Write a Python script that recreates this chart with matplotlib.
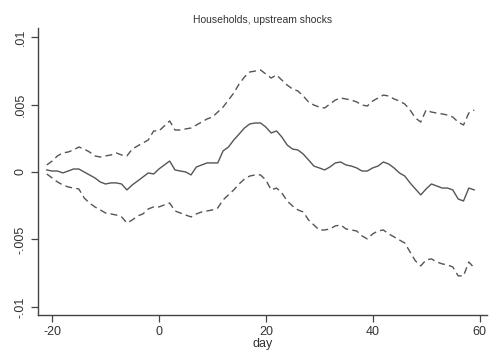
import matplotlib
matplotlib.use("Agg")
import matplotlib.pyplot as plt
import numpy as np

days = list(range(-21, 60))

point = [0.00015, 0.00007, 0.00007, -0.00007, 0.00007, 0.00022, 0.00022, 0.0, -0.00022, -0.00044,
         -0.00074, -0.00089, -0.00081, -0.00081, -0.00089, -0.00133, -0.00096, -0.00067, -0.00037, -0.00007,
         -0.00015, 0.00022, 0.00052, 0.00081, 0.00015, 0.00007, 0.0, -0.00022, 0.00037, 0.00052,
         0.00067, 0.00067, 0.00067, 0.00156, 0.00185, 0.00237, 0.00281, 0.00326, 0.00356, 0.00363,
         0.00363, 0.00333, 0.00289, 0.00304, 0.00259, 0.0020, 0.0017, 0.00163, 0.00133, 0.00089,
         0.00044, 0.0003, 0.00015, 0.00037, 0.00067, 0.00074, 0.00052, 0.00044, 0.0003, 0.00007,
         0.00007, 0.0003, 0.00044, 0.00074, 0.00059, 0.0003, -0.00007, -0.0003, -0.00081, -0.00126,
         -0.0017, -0.00126, -0.00089, -0.00104, -0.00119, -0.00119, -0.00133, -0.0020, -0.00215, -0.00119,
         -0.00133]

upper = [0.00052, 0.00081, 0.00119, 0.00141, 0.00148, 0.00163, 0.00185, 0.0017, 0.00148, 0.00119,
         0.00111, 0.00119, 0.00126, 0.00141, 0.00126, 0.00119, 0.0017, 0.00193, 0.00215, 0.00237,
         0.00304, 0.00304, 0.00341, 0.00378, 0.00311, 0.00311, 0.00319, 0.00326, 0.00348, 0.0037,
         0.00393, 0.00407, 0.00444, 0.00481, 0.00533, 0.00585, 0.00652, 0.00704, 0.00741, 0.00748,
         0.00756, 0.00726, 0.00696, 0.00719, 0.00681, 0.00644, 0.00615, 0.0060, 0.00563, 0.00519,
         0.00496, 0.00481, 0.00474, 0.00504, 0.00533, 0.00548, 0.00541, 0.00533, 0.00519, 0.00496,
         0.00489, 0.00526, 0.00548, 0.0057, 0.00563, 0.00541, 0.00526, 0.00504, 0.00459, 0.0040,
         0.0037, 0.00459, 0.00444, 0.00437, 0.0043, 0.00422, 0.00407, 0.0037, 0.00348, 0.00437,
         0.00459]

lower = [-0.00015, -0.00044, -0.00074, -0.00096, -0.00111, -0.00119, -0.00126, -0.00193, -0.0023, -0.00259,
         -0.00281, -0.00304, -0.00311, -0.00319, -0.00333, -0.00378, -0.00356, -0.00326, -0.00311, -0.00274,
         -0.00259, -0.00259, -0.00244, -0.0023, -0.00289, -0.00304, -0.00319, -0.00333, -0.00311, -0.00296,
         -0.00289, -0.00281, -0.00267, -0.00207, -0.0017, -0.00133, -0.00089, -0.00052, -0.0003, -0.00022,
         -0.00022, -0.00059, -0.00133, -0.00119, -0.00156, -0.00215, -0.00252, -0.00281, -0.00296, -0.00356,
         -0.00393, -0.0043, -0.0043, -0.00422, -0.004, -0.00393, -0.00422, -0.0043, -0.00437, -0.00474,
         -0.00496, -0.00459, -0.00437, -0.0043, -0.00459, -0.00481, -0.00504, -0.00526, -0.00593, -0.00659,
         -0.00696, -0.00652, -0.00644, -0.00667, -0.00681, -0.00689, -0.00704, -0.0077, -0.0077, -0.00667,
         -0.00711]

xticks = [-20, 0, 20, 40, 60]
xtick_labels = ["-20", "0", "20", "40", "60"]
yticks = [-0.01, -0.005, 0, 0.005, 0.01]
ytick_labels = ["-.01", "-.005", "0", ".005", ".01"]
title = "Households, upstream shocks"
xlabel = "day"

plt.rcParams['font.family'] = ['Liberation Sans', 'DejaVu Sans']

fig = plt.figure(figsize=(4.9, 3.54), dpi=100)
ax = fig.add_axes([37.7 / 490, 1 - 315 / 354, (487 - 37.7) / 490, (315 - 28) / 354])

line_col = '#555555'
ax.plot(days, point, color=line_col, lw=1.0, ls='-')
ax.plot(days, upper, color=line_col, lw=1.0, ls=(0, (5, 3)))
ax.plot(days, lower, color=line_col, lw=1.0, ls=(0, (5, 3)))

ax.set_xlim(-22.7, 61.4)
ax.set_ylim(-0.0106, 0.01067)

for s in ['top', 'right']:
    ax.spines[s].set_visible(False)
for s in ['left', 'bottom']:
    ax.spines[s].set_color('#444444')
    ax.spines[s].set_linewidth(1.0)

ax.set_xticks(xticks)
ax.set_xticklabels(xtick_labels)
ax.set_yticks(yticks)
ax.set_yticklabels(ytick_labels, rotation=90, va='center')
ax.tick_params(axis='both', length=5, width=0.9, color='#444444', labelsize=9,
               labelcolor='#333333', pad=3)

ax.set_xlabel(xlabel, fontsize=9, color='#333333', labelpad=0)
fig.text((37.7 + 487) / 2 / 490, 1 - 20 / 354, title, ha='center', va='center',
         fontsize=7.5, color='#333333')

fig.savefig("out.png", dpi=100, facecolor='white')
